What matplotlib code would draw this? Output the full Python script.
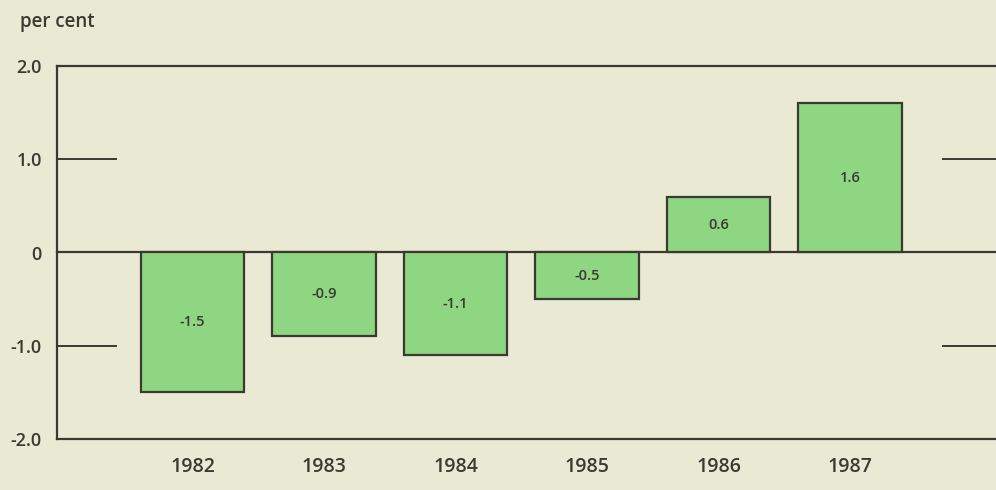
import matplotlib.pyplot as plt

# annual change, per cent
years = ['1982', '1983', '1984', '1985', '1986', '1987']
values = [-1.5, -0.9, -1.1, -0.5, 0.6, 1.6]
yticks = [2.0, 1.0, 0, -1.0, -2.0]
ytick_labels = ['2.0', '1.0', '0', '-1.0', '-2.0']

bg = '#eae9d4'
green = '#8fd682'
ink = '#3b3a30'

plt.rcParams['font.family'] = ['Open Sans', 'DejaVu Sans']

fig = plt.figure(figsize=(9.96, 4.9), dpi=100, facecolor=bg)
ax = fig.add_axes([57 / 996, 51 / 490, 939 / 996, 373 / 490])
ax.set_facecolor(bg)

x = list(range(len(years)))
ax.bar(x, values, width=0.79, color=green, edgecolor=ink, linewidth=1.6, zorder=3)

# value labels in the middle of each bar
for xi, v in zip(x, values):
    ax.text(xi, v / 2, f'{v:.1f}', ha='center', va='center', fontsize=10.5,
            color=ink, fontweight='semibold', zorder=4)

ax.set_xlim(-1.03, 6.11)
ax.set_ylim(-2.0, 2.0)

# full lines at 2, 0, -2 and short stubs at +/-1
for yv in [2.0, 0, -2.0]:
    ax.axhline(yv, color=ink, linewidth=1.6, zorder=2, clip_on=False)
for yv in [1.0, -1.0]:
    ax.plot([-1.03, -0.585], [yv, yv], color=ink, linewidth=1.4, zorder=2)
    ax.plot([5.71, 6.11], [yv, yv], color=ink, linewidth=1.4, zorder=2)

for side in ['top', 'right', 'bottom']:
    ax.spines[side].set_visible(False)
ax.spines['left'].set_color(ink)
ax.spines['left'].set_linewidth(1.6)

ax.set_yticks(yticks)
ax.set_yticklabels(ytick_labels)
ax.set_xticks(x)
ax.set_xticklabels(years)
ax.tick_params(axis='y', length=0, pad=11, labelsize=13, labelcolor=ink)
ax.tick_params(axis='x', length=0, pad=13, labelsize=14, labelcolor=ink)
for lbl in ax.get_xticklabels() + ax.get_yticklabels():
    lbl.set_fontweight('semibold')

fig.text(20 / 996, 1 - 22 / 490, 'per cent', ha='left', va='center',
         fontsize=13.5, color=ink, fontweight='semibold')

fig.savefig('out.png', dpi=100, facecolor=bg)
